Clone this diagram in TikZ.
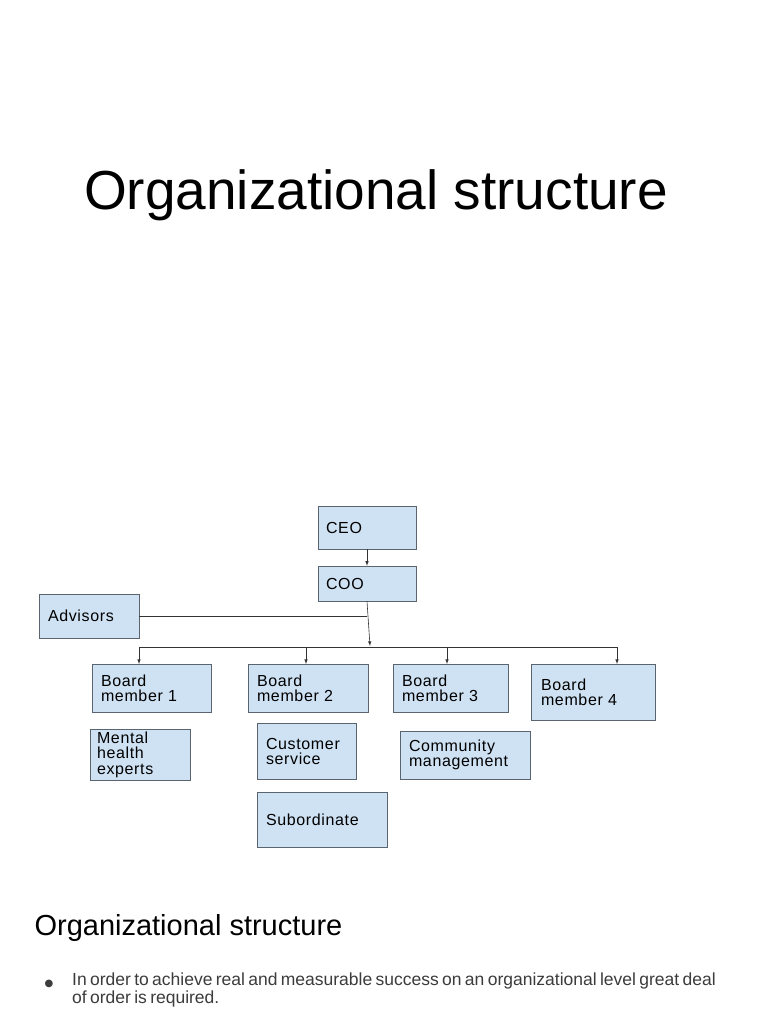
\documentclass[tikz,border=0pt]{standalone}
\usepackage{fontspec}
\setmainfont{Liberation Sans}
\newfontfamily\symfont{DejaVu Sans}
\usetikzlibrary{positioning, arrows}
\definecolor{boxblue}{RGB}{207,226,243}
\definecolor{boxline}{RGB}{90,100,110}
\definecolor{bodygray}{RGB}{60,60,60}
\tikzset{
  orgbox/.style={draw=boxline, fill=boxblue, inner sep=0pt, text width=#1, align=left, font=\fontsize{16}{15}\selectfont\addfontfeatures{LetterSpace=4}},
  orgbox/.default=80pt,
  link/.style={draw=black!80, line width=0.6pt}
}
\begin{document}
\begin{tikzpicture}[>=latex, x=1pt, y=-1pt]
  \useasboundingbox (0,0) rectangle (768,1024);
  \fill[white] (0,0) rectangle (768,1024);

  % Title
  \node (title) at (376,195) {\fontsize{55}{58}\selectfont Organizational structure};

  % Top
  \node (ceo) at (367,527.5) [orgbox=82pt, minimum width=98pt, minimum height=43pt] {CEO};
  \node (coo) at (367,583.5) [orgbox=82pt, minimum width=98pt, minimum height=35pt] {COO};
  \node (advisors) at (89,616) [orgbox=82pt, minimum width=100pt, minimum height=44pt] {Advisors};

  % Board members
  \node (bm1) at (151.5,688) [orgbox=101pt, minimum width=119pt, minimum height=48pt] {Board\\member 1};
  \node (bm2) at (308,688) [orgbox=102pt, minimum width=120pt, minimum height=48pt] {Board\\member 2};
  \node (bm3) at (450.5,688) [orgbox=97pt, minimum width=115pt, minimum height=48pt] {Board\\member 3};
  \node (bm4) at (593,692) [orgbox=104pt, minimum width=124pt, minimum height=56pt] {Board\\member 4};

  % Staff
  \node (mental) at (140,754.5) [orgbox=86pt, minimum width=100pt, minimum height=51pt, font=\fontsize{16}{15.5}\selectfont\addfontfeatures{LetterSpace=4}] {Mental\\health\\experts};
  \node (customer) at (306.5,751) [orgbox=81pt, minimum width=99pt, minimum height=56pt] {Customer\\service};
  \node (community) at (465,755) [orgbox=112pt, minimum width=130pt, minimum height=48pt] {Community\\management};
  \node (subordinate) at (322,819.5) [orgbox=112pt, minimum width=130pt, minimum height=55pt] {Subordinate};

  % Connectors
  \coordinate (adv) at (367,616);
  \coordinate (hub) at (370,646);
  \draw[link, ->] (ceo) -- (coo);
  \draw[link, ->] (coo.south) -- (hub);
  \draw[link] (advisors.east) -- (adv);
  \draw[link] (139,647) -- (617,647);
  \foreach \b/\x in {bm1/139, bm2/306, bm3/447, bm4/617}
    \draw[link, ->] (\x,647) -- (\x,664);

  % Text below
  \node (heading) [anchor=west] at (31,928) {\fontsize{29}{31}\selectfont Organizational structure};
  \node (bullet) at (49,984) {\textcolor{bodygray}{\symfont\fontsize{10}{10}\selectfont ●}};
  \node (body) [anchor=north west, text width=645pt, align=left, inner sep=0pt, text=bodygray] at (72,973) {\fontsize{17.5}{25}\selectfont In order to achieve real and measurable success on an organizational level great deal of order is required.};
\end{tikzpicture}
\end{document}
